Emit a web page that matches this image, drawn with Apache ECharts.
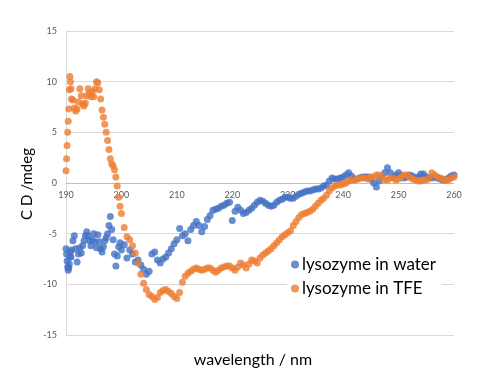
<!DOCTYPE html>
<html>
<head>
<meta charset="utf-8">
<script src="https://cdn.jsdelivr.net/npm/echarts@6/dist/echarts.min.js"></script>
<style>
html,body{margin:0;padding:0;background:#fff;}
#chart{width:481px;height:388px;}
</style>
</head>
<body>
<div id="chart"></div>
<script>
// wavelength grid (nm): fine near 190, then 0.25, then 0.5 nm
function range(a, b, s) { var r = []; for (var v = a; v <= b + 1e-9; v += s) r.push(Math.round(v * 100) / 100); return r; }
var wavelengths = range(190, 191, 0.1).concat(range(191.25, 200, 0.25)).concat(range(200.5, 260, 0.5));

var seriesNames = ['lysozyme in water', 'lysozyme in TFE'];
var xTicks = [190, 200, 210, 220, 230, 240, 250, 260];
var yTicks = [-15, -10, -5, 0, 5, 10, 15];

var waterCD = [
  -6.5,-7.0,-7.7,-8.3,-8.6,-8.4,-8.0,-7.3,-6.8,-7.3,-6.6,
  -5.7,-5.2,-6.5,-7.8,-7.0,-6.4,-6.9,-6.2,-5.7,-5.2,-4.8,-5.2,-5.7,-6.2,-5.6,-5.0,
  -5.8,-6.4,-5.1,-5.8,-6.5,-6.8,-6.3,-5.7,-5.4,-5.0,-4.2,-3.3,-4.6,-5.6,-7.0,-8.2,
  -7.2,-6.3,-5.9,-6.6,
  -6.1,-7.4,-6.6,-7.0,-7.8,-7.6,-8.1,-8.5,-9.0,-8.7,-7.0,-6.8,-7.6,-7.9,-7.5,-7.3,
  -6.9,-6.5,-6.0,-5.6,-4.5,-5.2,-5.0,-5.7,-4.6,-4.2,-3.8,-4.2,-4.8,-4.3,-3.6,-3.2,
  -2.7,-2.6,-2.5,-2.3,-2.2,-2.0,-1.9,-3.7,-2.8,-2.4,-2.7,-3.0,-2.9,-2.7,-2.5,-2.2,
  -1.9,-1.7,-1.8,-2.0,-2.2,-2.3,-2.2,-1.9,-1.7,-1.6,-1.4,-1.4,-1.5,-1.5,-1.3,-1.1,
  -1.0,-0.9,-0.8,-0.8,-0.7,-0.6,-0.6,-0.5,-0.3,-0.2,0.2,0.5,0.4,0.4,0.5,0.6,
  0.8,1.0,0.7,0.4,0.4,0.5,0.6,0.6,0.6,0.4,0.0,-0.4,0.2,0.6,1.0,1.5,
  1.0,0.6,0.8,1.0,0.7,0.5,0.6,0.8,0.7,0.5,0.6,0.9,0.9,0.6,0.5,0.5,
  0.6,0.5,0.4,0.3,0.3,0.5,0.7,0.8
];

var tfeCD = [
  1.2,2.4,3.7,5.0,6.1,7.3,9.2,10.5,10.0,9.3,8.3,
  8.2,7.4,7.1,7.3,8.0,9.3,8.6,7.8,7.6,7.9,8.6,9.3,8.8,8.5,9.0,8.5,
  9.3,10.0,9.9,9.2,8.3,7.2,6.5,5.8,5.0,4.2,3.3,2.4,1.9,1.7,1.3,0.6,
  -0.3,-1.4,-2.3,-3.0,
  -4.4,-5.3,-5.6,-6.2,-6.9,-7.9,-9.0,-9.9,-10.5,-11.0,-11.2,-11.5,-11.3,-10.8,-10.6,-10.5,
  -10.7,-10.9,-11.2,-11.4,-10.8,-9.8,-9.2,-8.9,-8.7,-8.5,-8.4,-8.5,-8.6,-8.5,-8.4,-8.4,
  -8.6,-8.8,-8.6,-8.4,-8.3,-8.2,-8.2,-8.4,-8.6,-8.3,-7.9,-8.1,-8.4,-8.0,-7.6,-7.7,
  -7.9,-7.4,-7.1,-6.9,-6.7,-6.5,-6.2,-5.9,-5.6,-5.3,-5.1,-4.9,-4.7,-4.2,-3.8,-3.4,
  -3.1,-3.0,-2.9,-2.8,-2.6,-2.3,-2.0,-1.7,-1.5,-1.2,-0.8,-0.5,-0.3,-0.2,-0.2,-0.1,
  0.0,0.2,0.3,0.3,0.4,0.5,0.5,0.5,0.4,0.6,0.6,0.8,0.8,0.6,0.3,0.3,
  0.5,0.5,0.3,0.4,0.6,0.8,0.8,0.6,0.4,0.3,0.2,0.2,0.3,0.3,0.5,1.0,
  0.8,0.6,0.5,0.4,0.3,0.3,0.5,0.6
];

function pairs(ys) { return wavelengths.map(function (x, i) { return [x, ys[i]]; }); }

var chart = echarts.init(document.getElementById('chart'));
var labelStyle = { color: '#595959', fontSize: 9, fontFamily: 'Lato, "Liberation Sans", sans-serif' };
chart.setOption({
  animation: false,
  backgroundColor: '#ffffff',
  grid: { left: 66, right: 27, top: 31, bottom: 53, containLabel: false },
  xAxis: {
    type: 'value', min: xTicks[0], max: xTicks[xTicks.length - 1], interval: 10,
    offset: -152,
    axisLine: { show: true, onZero: false, lineStyle: { color: '#bfbfbf', width: 1 } },
    axisTick: { show: false },
    splitLine: { show: false },
    axisLabel: Object.assign({ margin: 8 }, labelStyle)
  },
  yAxis: {
    type: 'value', min: yTicks[0], max: yTicks[yTicks.length - 1], interval: 5,
    axisLine: { show: true, onZero: false, lineStyle: { color: '#d9d9d9', width: 1 } },
    axisTick: { show: false },
    splitLine: { show: true, lineStyle: { color: '#d9d9d9', width: 1 } },
    axisLabel: Object.assign({ margin: 9 }, labelStyle)
  },
  legend: {
    orient: 'vertical', left: 287, top: 254,
    backgroundColor: '#ffffff', padding: [2, 6, 2, 4],
    icon: 'circle', itemWidth: 8, itemHeight: 8, itemGap: 7,
    textStyle: { color: '#000000', fontSize: 17, fontFamily: 'Lato, "Liberation Sans", sans-serif', padding: [0, 0, 0, -2] },
    data: seriesNames
  },
  graphic: [
    { type: 'text', x: 253, y: 360, style: { text: 'wavelength / nm', fill: '#000', font: '16px Lato, "Liberation Sans", sans-serif', textAlign: 'center', textVerticalAlign: 'middle' } },
    { type: 'text', rotation: Math.PI / 2, x: 27, y: 184, style: { text: 'C D /mdeg', fill: '#000', font: '15px Lato, "Liberation Sans", sans-serif', textAlign: 'center', textVerticalAlign: 'middle' } }
  ],
  series: [
    { name: seriesNames[0], type: 'scatter', symbol: 'circle', symbolSize: 7, itemStyle: { color: '#4472C4' }, data: pairs(waterCD), z: 2 },
    { name: seriesNames[1], type: 'scatter', symbol: 'circle', symbolSize: 7, itemStyle: { color: '#ED7D31' }, data: pairs(tfeCD), z: 3 }
  ]
});
</script>
</body>
</html>
